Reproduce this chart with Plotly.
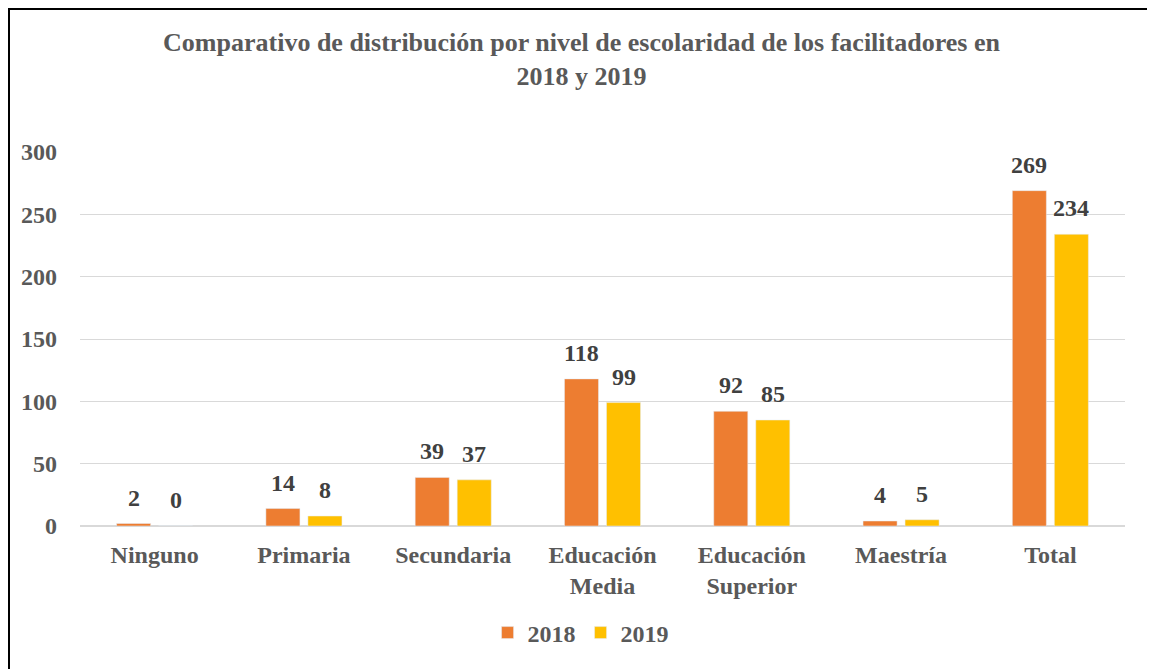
import plotly.graph_objects as go

# Data
categorias = ['Ninguno', 'Primaria', 'Secundaria', 'Educación<br>Media',
              'Educación<br>Superior', 'Maestría', 'Total']
valores_2018 = [2, 14, 39, 118, 92, 4, 269]
valores_2019 = [0, 8, 37, 99, 85, 5, 234]
y_ticks = [0, 50, 100, 150, 200, 250, 300]

FONT = 'Liberation Serif'
GRIS = '#595959'
ETIQUETA = '#404040'

fig = go.Figure()

fig.add_trace(go.Bar(name='<b>2018</b>', x=categorias, y=valores_2018,
                     marker_color='#ED7D31'))
fig.add_trace(go.Bar(name='<b>2019</b>', x=categorias, y=valores_2019,
                     marker_color='#FFC000'))

# value labels above each bar, offset to sit over the grouped bars
for serie, desplaz in [(valores_2018, -21), (valores_2019, 21)]:
    for cat, val in zip(categorias, serie):
        fig.add_annotation(
            x=cat, y=val, xref='x', yref='y', text=f'<b>{val}</b>',
            showarrow=False, xshift=desplaz, yshift=11, yanchor='bottom',
            font=dict(family=FONT, size=24, color=ETIQUETA),
        )

# the page body adds an 8px offset, so the figure is 8px smaller
fig.update_layout(
    width=1147, height=661,
    paper_bgcolor='white', plot_bgcolor='white',
    margin=dict(l=72, r=30, t=144, b=143),
    font=dict(family=FONT, color=GRIS),
    title=dict(
        text='<b>Comparativo de distribución por nivel de escolaridad de los facilitadores en<br>2018 y 2019</b>',
        x=0.5, xanchor='center', y=0.935, yanchor='top',
        font=dict(family=FONT, size=26, color=GRIS),
    ),
    barmode='group', bargap=0.437, bargroupgap=0.19,
    legend=dict(
        orientation='h', x=0.479, xanchor='center', y=-0.286, yanchor='middle',
        font=dict(family=FONT, size=24, color=GRIS),
        itemwidth=30,
    ),
)

fig.update_xaxes(
    showgrid=False, showline=False, ticks='', ticklabelstandoff=12,
    tickvals=categorias, ticktext=[f'<b>{c}</b>' for c in categorias],
    tickfont=dict(family=FONT, size=24, color=GRIS),
)
fig.update_yaxes(
    range=[0, 300], tickvals=y_ticks, ticktext=[f'<b>{t}</b>' for t in y_ticks],
    showgrid=True, gridcolor='#D9D9D9', gridwidth=1,
    zeroline=True, zerolinecolor='#D9D9D9', zerolinewidth=2,
    showline=False, ticks='', ticklabelstandoff=22,
    tickfont=dict(family=FONT, size=24, color=GRIS),
)

# chart border as in the source image
fig.add_shape(type='rect', xref='paper', yref='paper',
              x0=(1 - 72) / 1045, x1=(1144 - 72) / 1045,
              y0=-0.5, y1=(518 - 1) / 374,
              line=dict(color='black', width=2), fillcolor='rgba(0,0,0,0)')

fig.write_html('out.html')
